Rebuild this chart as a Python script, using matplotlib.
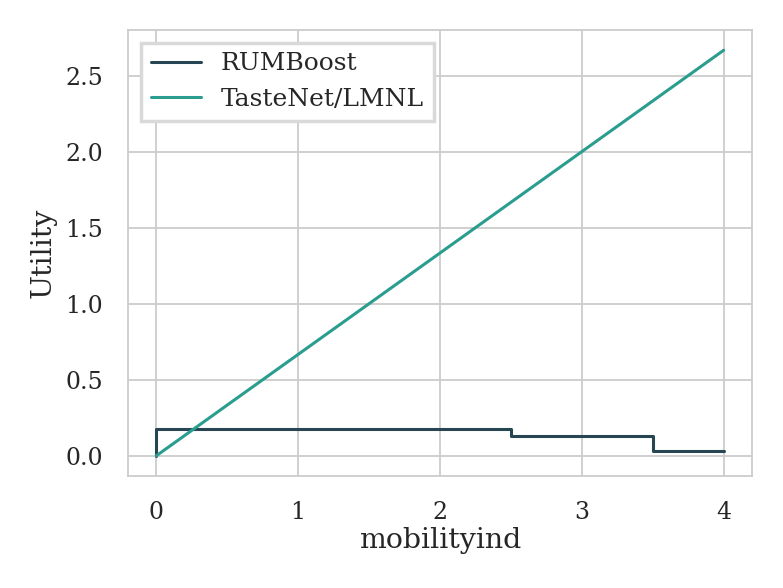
import numpy as np
import matplotlib
matplotlib.use("Agg")
import matplotlib.pyplot as plt
import seaborn as sns

sns.set_theme(style="whitegrid")
plt.rcParams['font.family'] = ['DejaVu Serif']

# data
rum_x = [0, 0, 2.5, 2.5, 3.5, 3.5, 4.0]
rum_y = [0, 0.178, 0.178, 0.132, 0.132, 0.033, 0.033]
taste_x = [0, 4.0]
taste_y = [0, 2.67]

fig = plt.figure(figsize=(7.83, 5.88), dpi=100)
ax = fig.add_axes([128/783, 1-476/588, (752-128)/783, (476-30)/588])
ax.plot(rum_x, rum_y, color='#264653', lw=2.2, label='RUMBoost')
ax.plot(taste_x, taste_y, color='#2a9d8f', lw=2.2, label='TasteNet/LMNL')
ax.set_xlabel('mobilityind', fontsize=20.5, labelpad=2)
ax.set_ylabel('Utility', fontsize=20.5, labelpad=6)
ax.tick_params(labelsize=17)
ax.tick_params(axis='x', pad=12)
ax.tick_params(axis='y', pad=12)
ax.set_yticks([0, 0.5, 1.0, 1.5, 2.0, 2.5])
ax.set_xticks([0, 1, 2, 3, 4])
ax.grid(True, linewidth=1.3, color='0.8')
for s in ax.spines.values():
    s.set_linewidth(1.3)
leg = ax.legend(fontsize=18, loc='upper left', fancybox=False, framealpha=1)
leg.get_frame().set_linewidth(2.5)
leg.get_frame().set_edgecolor('0.85')
fig.savefig('out.png', dpi=100)
